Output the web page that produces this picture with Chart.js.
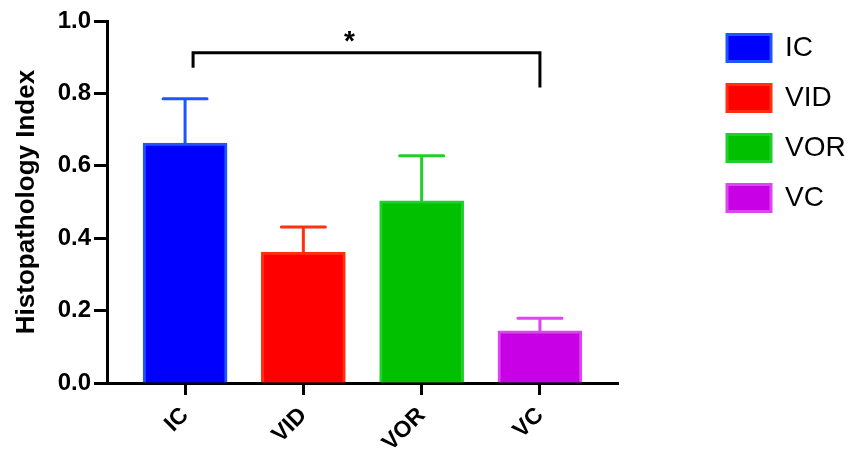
<!DOCTYPE html>
<html>
<head>
<meta charset="utf-8">
<script src="https://cdn.jsdelivr.net/npm/chart.js@4"></script>
<style>
  html, body { margin: 0; padding: 0; background: #fff; }
  #wrap { width: 855px; height: 455px; }
</style>
</head>
<body>
<div id="wrap"><canvas id="graphic"></canvas></div>
<script>
const categories = ["IC", "VID", "VOR", "VC"];
const means = [0.663, 0.362, 0.503, 0.144];
const errors = [0.122, 0.069, 0.125, 0.035];
const yTicks = [0.0, 0.2, 0.4, 0.6, 0.8, 1.0];
const fillColors = ["#0000ff", "#ff0000", "#00c000", "#c800e6"];
const edgeColors = ["#1f55ff", "#ff3010", "#1fcf2a", "#dc45f0"];

// significance bracket between IC and VC
const sigFrom = 0;
const sigTo = 3;
const sigY = 0.912;
const sigLeftEnd = 0.871;
const sigRightEnd = 0.816;
const sigLabel = "*";
const sigLabelAt = 1.39;

const FONT = "'Liberation Sans', Arial, Helvetica, sans-serif";
const PLOT_RIGHT = 618;
const LEGEND_BOX_X = 727;

const errorBars = {
  id: "errorBars",
  afterDatasetsDraw(chart) {
    const { ctx, scales: { x, y } } = chart;
    ctx.save();
    ctx.lineWidth = 3;
    ctx.lineCap = "round";
    means.forEach((m, i) => {
      const cx = x.getPixelForValue(i);
      const top = y.getPixelForValue(m + errors[i]);
      ctx.strokeStyle = edgeColors[i];
      ctx.beginPath();
      ctx.moveTo(cx, y.getPixelForValue(m));
      ctx.lineTo(cx, top);
      ctx.moveTo(cx - 22, top);
      ctx.lineTo(cx + 22, top);
      ctx.stroke();
    });
    // bracket
    const x1 = x.getPixelForValue(sigFrom) + 8;
    const x2 = x.getPixelForValue(sigTo);
    const yb = y.getPixelForValue(sigY);
    ctx.strokeStyle = "#000";
    ctx.lineCap = "butt";
    ctx.lineJoin = "miter";
    ctx.beginPath();
    ctx.moveTo(x1, y.getPixelForValue(sigLeftEnd));
    ctx.lineTo(x1, yb);
    ctx.lineTo(x2, yb);
    ctx.lineTo(x2, y.getPixelForValue(sigRightEnd));
    ctx.stroke();
    ctx.fillStyle = "#000";
    ctx.font = "bold 28px " + FONT;
    ctx.textAlign = "center";
    ctx.textBaseline = "middle";
    ctx.fillText(sigLabel, x.getPixelForValue(sigLabelAt), yb - 11);
    ctx.restore();
  }
};

const legendPlace = {
  id: "legendPlace",
  beforeInit(chart) {
    const legend = chart.legend;
    const fit = legend.fit;
    legend.fit = function () {
      fit.call(legend);
      legend.width = chart.width - PLOT_RIGHT;
    };
  },
  afterLayout(chart) {
    const legend = chart.legend;
    const pad = legend.options.labels.padding;
    legend.left = LEGEND_BOX_X - pad;
    legend.top = 34 - pad;
  }
};

const ctx = document.getElementById("graphic").getContext("2d");
new Chart(ctx, {
  type: "bar",
  data: {
    datasets: categories.map((c, i) => ({
      label: c,
      data: [{ x: i, y: means[i] }],
      backgroundColor: fillColors[i],
      borderColor: edgeColors[i],
      borderWidth: 3,
      barThickness: 84,
      grouped: false
    }))
  },
  options: {
    responsive: true,
    maintainAspectRatio: false,
    animation: false,
    layout: { padding: { top: 21, left: 0, right: 0, bottom: 0 } },
    plugins: {
      tooltip: { enabled: false },
      legend: {
        position: "right",
        align: "start",
        labels: {
          boxWidth: 44,
          boxHeight: 27,
          padding: 22,
          color: "#000",
          font: { family: FONT, size: 28 }
        }
      }
    },
    scales: {
      x: {
        type: "linear",
        min: -0.66,
        max: 3.66,
        offset: false,
        afterFit(scale) { scale.height = 72; },
        afterBuildTicks(scale) {
          scale.ticks = categories.map((c, i) => ({ value: i }));
        },
        ticks: {
          includeBounds: false,
          autoSkip: false,
          maxRotation: 45,
          minRotation: 45,
          padding: 7,
          color: "#000",
          font: { family: FONT, size: 23, weight: "bold" },
          callback: (v) => categories[v]
        },
        grid: {
          offset: false,
          drawOnChartArea: false,
          tickLength: 12,
          tickWidth: 3,
          tickColor: "#000"
        },
        border: { display: true, color: "#000", width: 3 }
      },
      y: {
        min: 0,
        max: 1.0,
        afterFit(scale) { scale.width = 107; },
        afterBuildTicks(scale) {
          scale.ticks = yTicks.map(v => ({ value: v }));
        },
        ticks: {
          padding: 3,
          color: "#000",
          font: { family: FONT, size: 24, weight: "bold" },
          callback: (v) => Number(v).toFixed(1)
        },
        grid: {
          drawOnChartArea: false,
          tickLength: 13,
          tickWidth: 3,
          tickColor: "#000"
        },
        border: { display: true, color: "#000", width: 3 },
        title: {
          display: true,
          text: "Histopathology Index",
          color: "#000",
          padding: { top: 11, bottom: 0 },
          font: { family: FONT, size: 26, weight: "bold" }
        }
      }
    }
  },
  plugins: [errorBars, legendPlace]
});
</script>
</body>
</html>
